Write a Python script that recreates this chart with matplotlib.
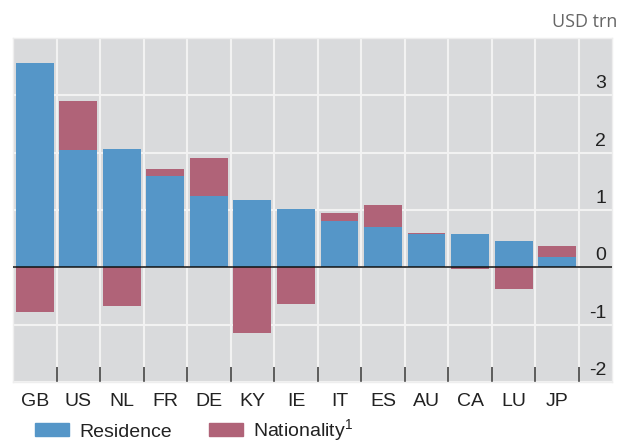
import numpy as np
import matplotlib
matplotlib.use('Agg')
import matplotlib.pyplot as plt
from matplotlib.patches import Patch

plt.rcParams['font.family'] = ['Liberation Sans', 'DejaVu Sans']
plt.rcParams['mathtext.fontset'] = 'custom'
plt.rcParams['mathtext.rm'] = 'Liberation Sans'

################################################################################

countries   = ['GB', 'US', 'NL', 'FR', 'DE', 'KY', 'IE', 'IT', 'ES', 'AU', 'CA', 'LU', 'JP']
residence   = [3.57, 2.04, 2.06, 1.60, 1.25, 1.18, 1.02, 0.80, 0.71, 0.59, 0.58, 0.46, 0.18]
nationality = [-0.78, 2.90, -0.68, 1.71, 1.90, -1.15, -0.64, 0.94, 1.08, 0.60, -0.03, -0.38, 0.37]
y_ticks = [-2, -1, 0, 1, 2, 3]

c_res = '#5596c8'
c_nat = '#b06378'
c_bg = '#d9dadc'
c_grid = '#f2f2f2'
c_text = '#222222'
fs = 14

################################################################################

fig = plt.figure(figsize=(6.18, 4.40), dpi=100)
ax = fig.add_axes([13/618, 58/440, 599/618, 344/440])
ax.set_facecolor(c_bg)

x = np.arange(len(countries))
w = 0.87
ax.bar(x, nationality, width=w, color=c_nat, zorder=2)
ax.bar(x, residence, width=w, color=c_res, zorder=3)
ax.axhline(0, color='#111111', lw=1.1, zorder=4)

ax.set_xlim(-0.5, len(countries) - 0.5 + 0.76)
ax.set_ylim(-2, 4)

# grid
for yv in y_ticks:
  ax.axhline(yv, color=c_grid, lw=1.5, zorder=1)
for xb in np.arange(len(countries)) + 0.5:
  ax.axvline(xb, color=c_grid, lw=1.5, zorder=1)

# x ticks: labels at centres, marks on boundaries
ax.set_xticks(x)
ax.set_xticklabels(countries, fontsize=fs, color=c_text)
ax.tick_params(axis='x', which='major', length=0, pad=8)
ax.set_xticks(np.arange(len(countries)) + 0.5, minor=True)
ax.tick_params(axis='x', which='minor', direction='in', length=11,
               width=1.1, color='#333333')

# y labels inside on the right, sitting above their grid lines
ax.set_yticks([])
for yv in y_ticks:
  ax.text(0.99, yv + 0.05, str(yv), transform=ax.get_yaxis_transform(),
          ha='right', va='bottom', fontsize=fs, color=c_text, zorder=5)

for s in ax.spines.values():
  s.set_color('#eeeeee')
  s.set_linewidth(1)

fig.text(617/618, 1 - 22/440, 'USD trn', ha='right', va='center',
         fontsize=13, color='#666666', family=['Open Sans', 'DejaVu Sans'])

handles = [Patch(color=c_res, label='Residence'),
           Patch(color=c_nat, label=r'Nationality$^{\mathrm{1}}$')]
fig.legend(handles=handles, loc='upper left', bbox_to_anchor=(35/618, 1 - 417/440),
           ncol=2, frameon=False, fontsize=fs, handlelength=1.75,
           handleheight=0.67, handletextpad=0.52, columnspacing=1.9,
           borderpad=0, borderaxespad=0, labelcolor=c_text)

fig.savefig('out.png', dpi=100)
